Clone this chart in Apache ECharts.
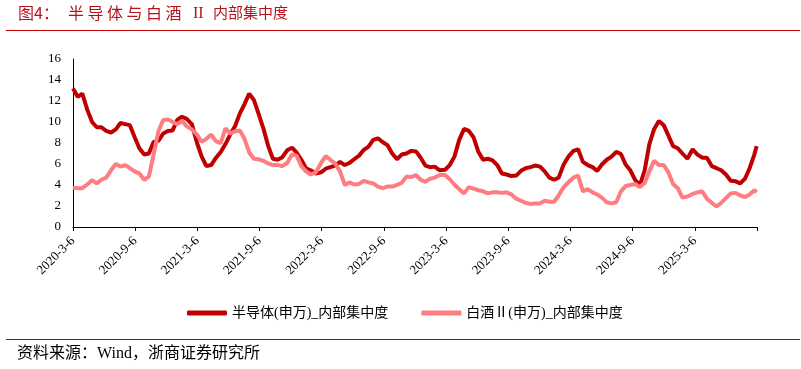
<!DOCTYPE html>
<html>
<head>
<meta charset="utf-8">
<script src="https://cdn.jsdelivr.net/npm/echarts@6/dist/echarts.min.js"></script>
<style>html,body{margin:0;padding:0;background:#fff;}#c{width:801px;height:369px;}</style>
</head>
<body>
<div id="c"></div>
<script>
// Tick labels every 6 months from 2020-3-6 (last tick unlabeled)
const tickLabels = ['2020-3-6','2020-9-6','2021-3-6','2021-9-6','2022-3-6','2022-9-6','2023-3-6','2023-9-6','2024-3-6','2024-9-6','2025-3-6',''];
const yTicks = [0,2,4,6,8,10,12,14,16];

// Bi-weekly observation dates from 2020-03-06, plus the final observation 2025-09-05
const dates = (function(){
  const out = [];
  let t = Date.UTC(2020, 2, 6);
  const end = Date.UTC(2025, 7, 29);
  while (t <= end) {
    const d = new Date(t);
    out.push(d.getUTCFullYear() + '-' + (d.getUTCMonth()+1) + '-' + d.getUTCDate());
    t += 14 * 86400000;
  }
  out.push('2025-9-5');
  return out;
})();

const semiName = '半导体(申万)_内部集中度';
const baijiuName = '白酒Ⅱ(申万)_内部集中度';

const semiValues = [
13.2,12.4,12.7,11.2,10.0,9.5,9.5,9.15,9.0,9.3,
9.9,9.8,9.7,8.6,7.5,6.9,7.0,8.1,8.2,8.9,
9.15,9.2,10.2,10.5,10.3,9.8,8.0,6.7,5.8,5.9,
6.6,7.15,7.9,8.8,9.6,10.8,11.7,12.7,12.1,10.8,
9.4,7.7,6.5,6.4,6.65,7.3,7.55,7.1,6.4,5.6,
5.4,5.1,5.2,5.55,5.7,5.85,6.2,5.9,6.1,6.45,
6.8,7.35,7.65,8.3,8.45,8.1,7.8,7.0,6.45,6.9,
7.0,7.25,7.2,6.6,5.85,5.7,5.75,5.4,5.45,5.9,
6.7,8.3,9.35,9.15,8.55,7.2,6.4,6.5,6.35,5.9,
5.1,5.0,4.85,4.9,5.35,5.6,5.7,5.85,5.75,5.3,
4.7,4.5,4.7,5.95,6.75,7.25,7.4,6.2,5.9,5.7,
5.35,5.95,6.4,6.7,7.15,6.95,5.95,5.4,4.5,4.0,
5.4,7.9,9.3,10.1,9.7,8.7,7.7,7.5,7.0,6.5,
7.4,6.9,6.6,6.6,5.8,5.6,5.4,5.0,4.4,4.35,
4.15,4.6,5.6,6.9,7.7
];

const baijiuValues = [
3.75,3.7,3.7,4.05,4.45,4.15,4.5,4.7,5.4,6.0,
5.75,5.9,5.6,5.3,5.1,4.5,4.8,6.9,9.1,10.2,
10.25,10.0,9.8,10.1,9.6,9.3,8.8,8.1,8.4,8.8,
8.15,8.0,9.4,8.9,9.1,9.2,8.4,7.1,6.5,6.45,
6.3,6.05,5.9,5.9,5.8,6.1,6.9,6.8,5.8,5.3,
5.0,5.2,6.1,6.75,6.4,6.05,5.3,4.0,4.25,4.05,
4.1,4.4,4.25,4.15,3.85,3.7,3.85,3.85,4.0,4.2,
4.8,4.75,4.95,4.5,4.3,4.6,4.7,4.95,4.95,4.55,
4.05,3.6,3.2,3.8,3.65,3.5,3.4,3.2,3.3,3.3,
3.25,3.3,3.1,2.7,2.5,2.3,2.2,2.25,2.25,2.5,
2.4,2.4,3.0,3.8,4.3,4.7,4.9,3.4,3.6,3.3,
3.1,2.8,2.35,2.25,2.35,3.4,3.9,4.0,4.1,3.8,
4.2,5.3,6.3,5.9,5.9,5.2,4.1,3.7,2.8,2.9,
3.15,3.3,3.4,2.7,2.3,1.95,2.3,2.75,3.2,3.25,
3.0,2.85,3.1,3.5,3.3
];

// month offset from 2020-3-6 (used as x position on a month scale)
function monthOffset(s){
  const p = s.split('-').map(Number);
  const dim = new Date(p[0], p[1], 0).getDate();
  return (p[0]-2020)*12 + (p[1]-3) + (p[2]-6)/dim;
}
const semiData = dates.map((d,i)=>[monthOffset(d), semiValues[i]]);
const baijiuData = dates.map((d,i)=>[monthOffset(d), baijiuValues[i]]);

const SERIF = "'Liberation Serif','Noto Sans CJK SC',serif";
const TITLE_RED = '#B5121B';

const titleHead = '半导体与白酒';
const titleTail = '内部集中度';
const titleGraphics = [];
titleGraphics.push({type: 'text', left: 18, top: 5, style: {text: '图4：', font: "16px 'Noto Sans CJK SC'", fill: TITLE_RED}});
titleHead.split('').forEach((ch, k) => {
  titleGraphics.push({type: 'text', left: 68 + k * 19.5, top: 5, style: {text: ch, font: "16px 'Noto Sans CJK SC'", fill: TITLE_RED}});
});
titleGraphics.push({type: 'text', left: 193, top: 6, style: {text: 'II', font: "16px 'Liberation Serif'", fill: TITLE_RED}});
titleGraphics.push({type: 'text', left: 213, top: 5, style: {text: titleTail, font: "15px 'Noto Sans CJK SC'", fill: TITLE_RED}});

const chart = echarts.init(document.getElementById('c'), null, {renderer:'canvas'});
chart.setOption({
  animation: false,
  backgroundColor: '#fff',
  grid: {left: 73, right: 44, top: 59, bottom: 142, containLabel: false},
  xAxis: {
    type: 'value', min: 0, max: 66, interval: 6,
    axisLine: {show: true, lineStyle: {color: '#000', width: 1}},
    axisTick: {show: true, length: 4, lineStyle: {color: '#000'}},
    splitLine: {show: false},
    axisLabel: {
      rotate: 45, margin: 12, fontSize: 13, fontFamily: SERIF, color: '#000',
      formatter: v => tickLabels[Math.round(v/6)] || ''
    }
  },
  yAxis: {
    type: 'value', min: yTicks[0], max: yTicks[yTicks.length-1], interval: 2,
    axisLine: {show: true, lineStyle: {color: '#000', width: 1}},
    axisTick: {show: false},
    splitLine: {show: false},
    axisLabel: {margin: 12, fontSize: 13, fontFamily: SERIF, color: '#000'}
  },
  legend: {
    left: 182, top: 301, itemWidth: 40, itemHeight: 5, itemGap: 33,
    icon: 'roundRect',
    textStyle: {fontSize: 14, fontFamily: SERIF, color: '#000'},
    data: [semiName, baijiuName]
  },
  series: [
    {name: semiName, type: 'line', data: semiData, showSymbol: false, symbol: 'none',
     lineStyle: {color: '#C00000', width: 4}, itemStyle: {color: '#C00000'}},
    {name: baijiuName, type: 'line', data: baijiuData, showSymbol: false, symbol: 'none',
     lineStyle: {color: '#FF7C80', width: 4}, itemStyle: {color: '#FF7C80'}}
  ],
  graphic: titleGraphics.concat([
    {type: 'line', shape: {x1: 6, y1: 30.5, x2: 800, y2: 30.5}, style: {stroke: '#C00000', lineWidth: 1}},
    {type: 'line', shape: {x1: 6, y1: 339.5, x2: 800, y2: 339.5}, style: {stroke: '#C00000', lineWidth: 1}},
    {type: 'text', left: 17, top: 346, style: {text: '资料来源：Wind，浙商证券研究所', font: "16px 'Liberation Serif','Noto Sans CJK SC'", fill: '#000'}}
  ])
});
</script>
</body>
</html>
